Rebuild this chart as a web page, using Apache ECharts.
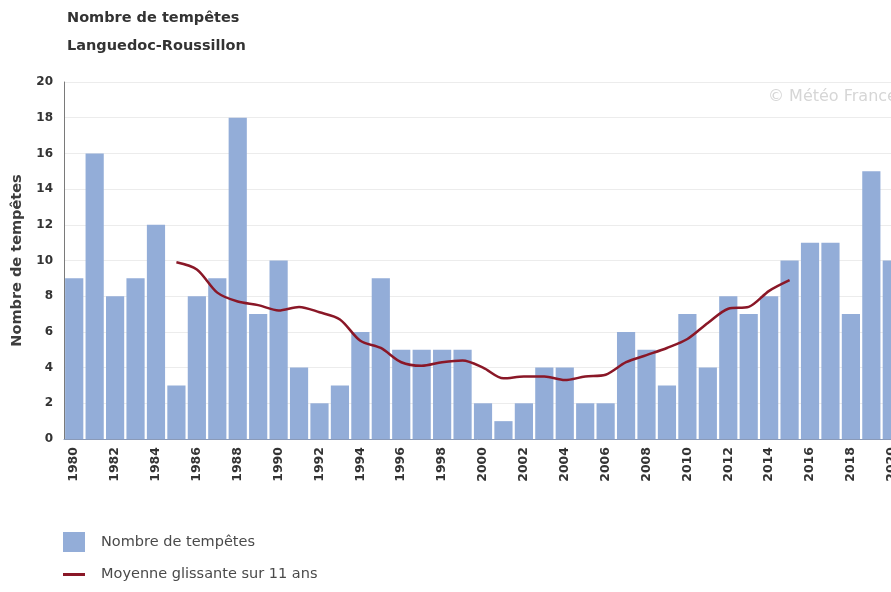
<!DOCTYPE html>
<html>
<head>
<meta charset="utf-8">
<script src="https://cdn.jsdelivr.net/npm/echarts@6/dist/echarts.min.js"></script>
<style>
  html, body { margin: 0; padding: 0; background: #fff; }
  #chart { width: 891px; height: 592px; }
</style>
</head>
<body>
<div id="chart"></div>
<script>
// Years shown on the category axis
const years = [
  '1980','1981','1982','1983','1984','1985','1986','1987','1988','1989',
  '1990','1991','1992','1993','1994','1995','1996','1997','1998','1999',
  '2000','2001','2002','2003','2004','2005','2006','2007','2008','2009',
  '2010','2011','2012','2013','2014','2015','2016','2017','2018','2019','2020'
];

// Annual number of storms
const stormCounts = [
  9, 16, 8, 9, 12, 3, 8, 9, 18, 7,
  10, 4, 2, 3, 6, 9, 5, 5, 5, 5,
  2, 1, 2, 4, 4, 2, 2, 6, 5, 3,
  7, 4, 8, 7, 8, 10, 11, 11, 7, 15, 10
];

// 11-year centred moving average (defined 1985–2015)
const movingAverage = [
  null, null, null, null, null, 9.9, 9.5, 8.2, 7.7, 7.5,
  7.2, 7.4, 7.1, 6.7, 5.5, 5.1, 4.3, 4.1, 4.3, 4.4,
  4.0, 3.4, 3.5, 3.5, 3.3, 3.5, 3.6, 4.3, 4.7, 5.1,
  5.6, 6.5, 7.3, 7.4, 8.3, 8.9, null, null, null, null, null
];

const yTicks = { min: 0, max: 20, interval: 2 };

const titleText = 'Nombre de tempêtes';
const subtitleText = 'Languedoc-Roussillon';
const barName = 'Nombre de tempêtes';
const lineName = 'Moyenne glissante sur 11 ans';
const yAxisName = 'Nombre de tempêtes';
const creditText = '© Météo France';

const FONT = '"DejaVu Sans", Verdana, sans-serif';
const BAR_COLOR = '#93add8';
const LINE_COLOR = '#8a1727';
const TEXT_DARK = '#333333';

const chart = echarts.init(document.getElementById('chart'), null, { renderer: 'canvas' });

chart.setOption({
  backgroundColor: '#ffffff',
  animation: false,
  textStyle: { fontFamily: FONT },
  title: [
    {
      text: titleText,
      left: 62, top: 6,
      textStyle: { fontFamily: FONT, fontSize: 14.5, fontWeight: 'bold', color: TEXT_DARK }
    },
    {
      text: subtitleText,
      left: 62, top: 34,
      textStyle: { fontFamily: FONT, fontSize: 14.5, fontWeight: 'bold', color: TEXT_DARK }
    }
  ],
  graphic: [
    {
      type: 'text',
      left: 768, top: 89,
      style: { text: creditText, fontFamily: FONT, fontSize: 16, fill: '#d6d6d6' }
    }
  ],
  legend: [
    {
      data: [barName],
      left: 58, top: 527,
      itemWidth: 22, itemHeight: 20,
      icon: 'rect',
      textStyle: { fontFamily: FONT, fontSize: 14.5, color: '#4a4a4a', padding: [0, 0, 0, 11] }
    },
    {
      data: [lineName],
      left: 58, top: 562,
      itemWidth: 22, itemHeight: 3,
      icon: 'rect',
      textStyle: { fontFamily: FONT, fontSize: 14.5, color: '#4a4a4a', padding: [0, 0, 0, 11] }
    }
  ],
  // the plot runs past the right edge of the canvas, so 2020 is only half shown
  grid: {
    left: 64, width: 838, top: 82, height: 357,
    containLabel: false,
    outerBoundsMode: 'none'
  },
  xAxis: {
    type: 'category',
    data: years,
    boundaryGap: true,
    axisLine: { show: true, lineStyle: { color: '#8a9ab8', width: 1 } },
    axisTick: { show: false },
    axisLabel: {
      interval: 1,
      rotate: 90,
      margin: 8,
      fontFamily: FONT, fontSize: 12.5, fontWeight: 'bold', color: TEXT_DARK
    },
    splitLine: { show: false }
  },
  yAxis: {
    type: 'value',
    min: yTicks.min, max: yTicks.max, interval: yTicks.interval,
    name: yAxisName,
    nameLocation: 'middle',
    nameRotate: 90,
    nameGap: 39,
    nameTextStyle: { fontFamily: FONT, fontSize: 14.5, fontWeight: 'bold', color: '#3d3d3d' },
    axisLine: { show: true, lineStyle: { color: '#7a7a7a', width: 1 } },
    axisTick: { show: false },
    axisLabel: { margin: 11, fontFamily: FONT, fontSize: 12, fontWeight: 'bold', color: TEXT_DARK },
    splitLine: { show: true, lineStyle: { color: '#ececec', width: 1 } }
  },
  series: [
    {
      name: barName,
      type: 'bar',
      data: stormCounts,
      barCategoryGap: '11%',
      itemStyle: { color: BAR_COLOR }
    },
    {
      name: lineName,
      type: 'line',
      data: movingAverage,
      smooth: 0.3,
      showSymbol: false,
      symbol: 'none',
      connectNulls: false,
      lineStyle: { color: LINE_COLOR, width: 2.5 },
      itemStyle: { color: LINE_COLOR },
      z: 5
    }
  ]
});
</script>
</body>
</html>
